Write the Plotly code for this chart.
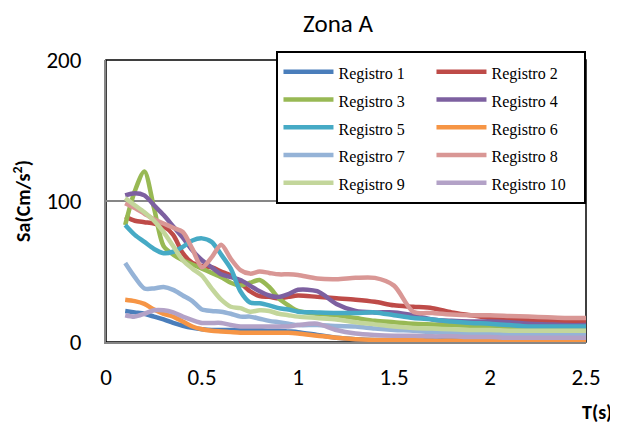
import plotly.graph_objects as go

T = [0.1, 0.15, 0.2, 0.25, 0.3, 0.35, 0.4, 0.45, 0.5, 0.55, 0.6, 0.65, 0.7, 0.75,
     0.8, 0.85, 0.9, 0.95, 1.0, 1.1, 1.2, 1.3, 1.4, 1.5, 1.6, 1.7, 1.8, 1.9, 2.0,
     2.1, 2.2, 2.3, 2.4, 2.5]

registro_1 = [22, 21, 20, 18, 16, 13.5, 11.5, 10, 9, 8.5, 8.5, 8.5, 8.5, 8.5, 8.5, 8, 8,
              7.5, 7, 5, 3, 2, 1.5, 1.5, 1.5, 1.5, 1.5, 1.5, 1.5, 1.5, 1.5, 1.5, 1.5, 1.5]
registro_2 = [89, 86, 85, 84, 82, 76, 63, 56, 54, 53, 50, 47, 42, 36, 32.5, 32, 31, 32,
              33, 32, 31, 30, 28.5, 26, 25, 24, 21, 19, 17, 16.5, 15.5, 15, 14.5, 14.5]
registro_3 = [83, 107, 121, 95, 68, 62, 58, 55, 52, 49, 46, 42, 40, 42, 44, 39, 31, 26,
              22, 20, 19, 17, 15, 14, 13, 12.5, 12, 11.5, 11, 10.5, 10, 10, 10, 10]
registro_4 = [104, 105.5, 104, 97, 90, 82, 74, 65, 58, 53, 48, 46, 44, 40, 36, 33, 32,
              34, 37, 36, 27, 22, 21, 21, 19, 16, 15, 14.5, 14.5, 14, 13, 12.5, 12, 12]
registro_5 = [83, 76, 71, 66, 63, 64, 67.5, 72, 73.5, 71, 62, 52, 36, 28, 27.5, 26, 24,
              23, 21.5, 21, 20.6, 20.6, 21, 19, 17, 16, 14.5, 13.5, 13, 12, 11, 11, 11, 11]
registro_6 = [30, 29, 27, 23, 20, 18, 14.5, 11, 9, 8, 7.5, 7, 6.5, 6.5, 6.5, 6.5, 6.5,
              6.5, 6, 4.5, 3, 2, 1.5, 1.5, 1.5, 1, 1, 1, 1, 1, 1, 1, 1, 1]
registro_7 = [56, 46, 38, 38, 39, 37, 33, 29, 23, 22, 21.5, 20, 18, 18, 16.5, 15, 14, 13,
              12, 12, 11.3, 11, 9.5, 8.5, 8, 7, 6.5, 6, 6, 5.5, 5.5, 5, 5, 5]
registro_8 = [98.5, 95, 91, 87, 84, 81, 78, 66, 53, 60, 69, 59, 51, 48.5, 50, 49, 48, 48,
              47.5, 45, 44.5, 45.5, 45.5, 40, 21.5, 20.5, 19.5, 19, 19, 18.5, 18, 17.5, 17, 17]
registro_9 = [102, 97, 92, 86, 78, 68, 58, 52, 47, 38, 30, 25, 24, 21.5, 22.5, 22, 20,
              19, 18, 17, 16, 14, 12.5, 11, 10, 9.5, 9, 8.5, 8.5, 8, 8, 8, 8, 8]
registro_10 = [19, 18, 20, 22.5, 22.5, 21, 18, 15.5, 13.5, 13.5, 13.5, 12, 11, 11, 11,
               11, 11, 11, 12, 13, 8.5, 6, 5, 4.5, 4.5, 4, 4, 3.5, 3.5, 3, 3, 3, 3, 3]

names = ["Registro 1", "Registro 2", "Registro 3", "Registro 4", "Registro 5",
         "Registro 6", "Registro 7", "Registro 8", "Registro 9", "Registro 10"]
series = [registro_1, registro_2, registro_3, registro_4, registro_5,
          registro_6, registro_7, registro_8, registro_9, registro_10]
colors = ["#4A7EBB", "#BE4B48", "#98B954", "#7D60A0", "#46AAC5",
          "#F69545", "#95B3D7", "#D99795", "#C3D69B", "#B3A2C7"]

x_ticks = [0, 0.5, 1, 1.5, 2, 2.5]
x_tick_labels = ["0", "0.5", "1", "1.5", "2", "2.5"]
y_ticks = [0, 100, 200]
y_tick_labels = ["0", "100", "200"]

fig = go.Figure()
for name, vals, col in zip(names, series, colors):
    fig.add_trace(go.Scatter(
        x=T, y=vals, mode="lines", name='<span style="font-size:16px">' + name + '</span>',
        line=dict(color=col, width=4.5, shape="spline", smoothing=0.8),
    ))

FONT = "Carlito, Lato, 'Open Sans', sans-serif"

# page body adds an 8px offset; figure is sized to fit the 618x426 window
W, H = 610, 418
L, R, TOP, B = 98, 32, 52, 84
PW, PH = W - L - R, H - TOP - B

fig.update_layout(
    width=W, height=H,
    margin=dict(l=L, r=R, t=TOP, b=B, autoexpand=False),
    paper_bgcolor="white", plot_bgcolor="white",
    title=dict(text="Zona A", x=330 / W, xanchor="center", y=1 - 15 / H, yanchor="middle",
               font=dict(family=FONT, size=25, color="#000000")),
    xaxis=dict(range=[0, 2.5], tickvals=x_ticks, ticktext=x_tick_labels,
               showgrid=False, zeroline=False, showline=True, linecolor="#868686",
               linewidth=2, ticks="", ticklabelstandoff=13, automargin=False,
               tickfont=dict(family=FONT, size=23, color="#000000")),
    yaxis=dict(range=[0, 200], tickvals=y_ticks, ticktext=y_tick_labels,
               showgrid=True, gridcolor="#868686", gridwidth=1.5, zeroline=False,
               showline=True, linecolor="#868686", linewidth=2, ticks="",
               ticklabelstandoff=18, automargin=False,
               tickfont=dict(family=FONT, size=23, color="#000000"),
               title=dict(text="<b>Sa(Cm/s<sup>2</sup>)</b>", standoff=10,
                          font=dict(family=FONT, size=20, color="#000000"))),
    legend=dict(orientation="h", x=1.001, xanchor="right",
                y=(334 - 196) / PH, yanchor="bottom",
                entrywidth=88, entrywidthmode="pixels", itemwidth=50,
                bgcolor="white", bordercolor="#000000", borderwidth=2,
                font=dict(family="'Liberation Serif', 'Times New Roman', serif", size=19,
                          color="#000000"),
                traceorder="normal"),
    showlegend=True,
    shapes=[dict(type="rect", xref="paper", yref="paper", x0=0, x1=1, y0=0, y1=1,
                 line=dict(color="#000000", width=1.5), layer="below")],
    annotations=[dict(text="<b>T(s)</b>", xref="paper", yref="paper",
                      x=(589 - L) / PW, y=(PH + TOP - 404) / PH, xanchor="center",
                      yanchor="middle", showarrow=False,
                      font=dict(family=FONT, size=20, color="#000000"))],
)

fig.write_html("out.html")
